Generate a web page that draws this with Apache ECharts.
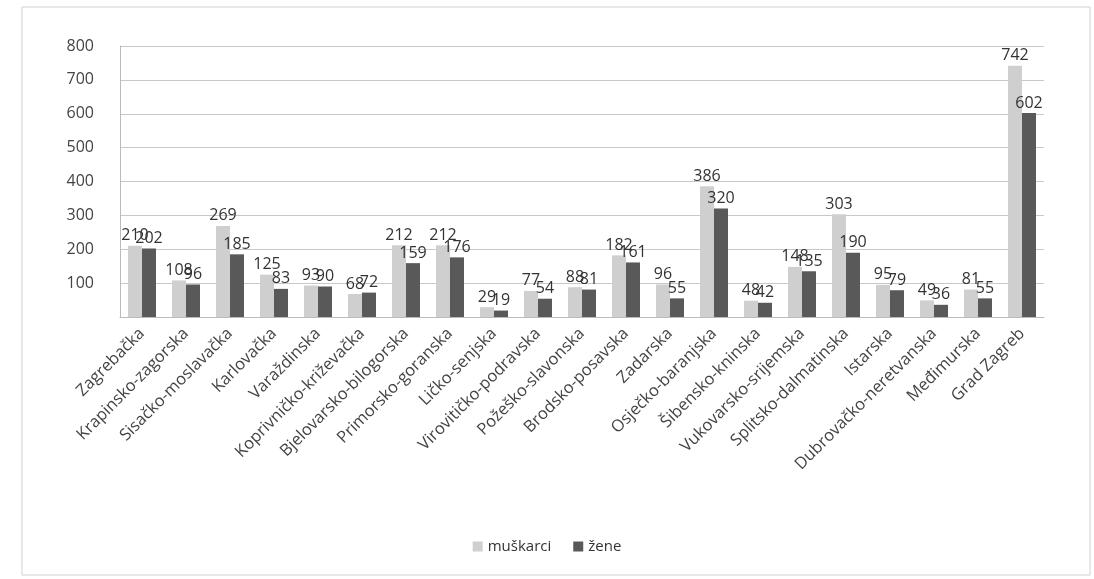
<!DOCTYPE html>
<html><head><meta charset="utf-8">
<script src="https://cdn.jsdelivr.net/npm/echarts@6/dist/echarts.min.js"></script>
<style>html,body{margin:0;padding:0;background:#fff}#c{width:1094px;height:579px}</style>
</head><body><div id="c"></div>
<script>
const categories = ["Zagrebačka","Krapinsko-zagorska","Sisačko-moslavačka","Karlovačka","Varaždinska","Koprivničko-križevačka","Bjelovarsko-bilogorska","Primorsko-goranska","Ličko-senjska","Virovitičko-podravska","Požeško-slavonska","Brodsko-posavska","Zadarska","Osječko-baranjska","Šibensko-kninska","Vukovarsko-srijemska","Splitsko-dalmatinska","Istarska","Dubrovačko-neretvanska","Međimurska","Grad Zagreb"];
const muskarci = [210,108,269,125,93,68,212,212,29,77,88,182,96,386,48,148,303,95,49,81,742];
const zene = [202,96,185,83,90,72,159,176,19,54,81,161,55,320,42,135,190,79,36,55,602];
const yTicks = [0,100,200,300,400,500,600,700,800];

const chart = echarts.init(document.getElementById('c'));
const font = "'Open Sans', 'DejaVu Sans', sans-serif";
chart.setOption({
  animation:false,
  graphic:[{type:'rect',shape:{x:22,y:7,width:1068,height:568},style:{fill:'none',stroke:'#d0d0d0',lineWidth:1}}],
  grid:{left:120,right:50,top:46,bottom:262},
  legend:{bottom:20,left:'center',itemWidth:10,itemHeight:10,itemGap:22,icon:'rect',
    textStyle:{fontFamily:font,fontSize:15,color:'#333'},data:['muškarci','žene']},
  xAxis:{type:'category',data:categories,
    axisLine:{lineStyle:{color:'#bbb'}},axisTick:{show:false},
    axisLabel:{interval:0,rotate:45,fontFamily:font,fontSize:16.5,color:'#444',margin:14}},
  yAxis:{type:'value',min:yTicks[0],max:yTicks[yTicks.length-1],interval:100,
    axisLine:{show:true,lineStyle:{color:'#bbb'}},axisTick:{show:false},
    splitLine:{lineStyle:{color:'#c8c8c8'}},
    axisLabel:{fontFamily:font,fontSize:16,color:'#444',margin:26,formatter:v=>v===0?'':String(v)}},
  series:[
    {name:'muškarci',type:'bar',data:muskarci,barWidth:14,barGap:'0%',
     itemStyle:{color:'#cfcfcf'},
     label:{show:true,position:'top',distance:2,fontFamily:font,fontSize:16,color:'#333'}},
    {name:'žene',type:'bar',data:zene,barWidth:14,
     itemStyle:{color:'#595959'},
     label:{show:true,position:'top',distance:2,fontFamily:font,fontSize:16,color:'#333'}}
  ]
});
</script></body></html>
